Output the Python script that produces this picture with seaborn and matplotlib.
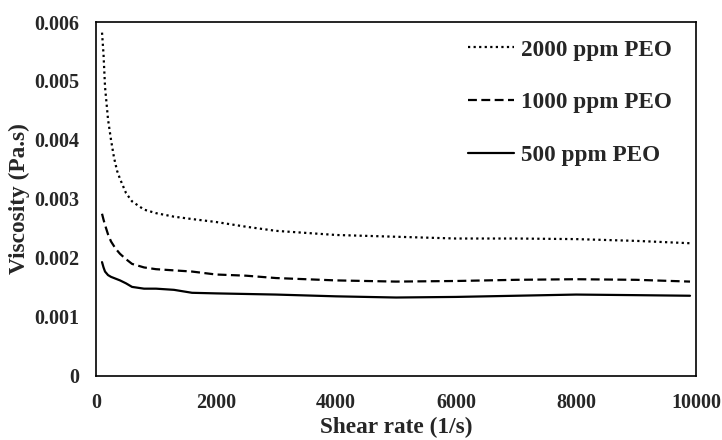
import numpy as np
import pandas as pd
import matplotlib
matplotlib.use("Agg")
import matplotlib.pyplot as plt
import seaborn as sns
from matplotlib.ticker import FuncFormatter

# Shear rate (1/s) and viscosity (Pa.s)
shear_rate = [100, 125, 150, 200, 250, 300, 350, 400, 500, 600, 800, 1000, 1300, 1600,
              2000, 2500, 3000, 4000, 5000, 6000, 7000, 8000, 9000, 9900]
visc_2000 = [0.00582, 0.00545, 0.00490, 0.00435, 0.00400, 0.00370, 0.00348, 0.00334,
             0.00310, 0.00296, 0.00282, 0.00276, 0.00270, 0.00266, 0.00261, 0.00253,
             0.00246, 0.00239, 0.00236, 0.00233, 0.00233, 0.00232, 0.00229, 0.00225]
visc_1000 = [0.00275, 0.00265, 0.00256, 0.00240, 0.00228, 0.00220, 0.00213, 0.00207,
             0.00198, 0.00190, 0.00184, 0.00181, 0.00179, 0.00177, 0.00172, 0.00170,
             0.00166, 0.00162, 0.00160, 0.00161, 0.00163, 0.00164, 0.00163, 0.00160]
visc_500 = [0.00193, 0.00184, 0.00177, 0.00171, 0.00168, 0.00166, 0.00164, 0.00162,
            0.00157, 0.00151, 0.00148, 0.00148, 0.00146, 0.00141, 0.00140, 0.00139,
            0.00138, 0.00135, 0.00133, 0.00134, 0.00136, 0.00138, 0.00137, 0.00136]
series_names = ["2000 ppm PEO", "1000 ppm PEO", "500 ppm PEO"]

df = pd.DataFrame({"Shear rate": shear_rate, series_names[0]: visc_2000,
                   series_names[1]: visc_1000, series_names[2]: visc_500})
df_melted = pd.melt(df, id_vars="Shear rate", value_vars=series_names,
                    var_name="Sample", value_name="Viscosity")

sns.set_style("white")
plt.rcParams["font.family"] = ["Liberation Serif", "DejaVu Serif"]
plt.rcParams["font.weight"] = "bold"

fig = plt.figure(figsize=(7.22, 4.40), dpi=100)
ax = fig.add_axes([0.133, 0.1455, 0.831, 0.8045])

sns.lineplot(data=df_melted, x="Shear rate", y="Viscosity", style="Sample",
             style_order=series_names, color="black", linewidth=1.6,
             dashes={series_names[0]: (1, 1.5), series_names[1]: (4, 2), series_names[2]: ""},
             ax=ax)

ax.set_xlim(0, 10000)
ax.set_ylim(0, 0.006)
ax.set_xticks(np.arange(0, 10001, 2000))
ax.set_yticks(np.arange(0, 0.0061, 0.001))
ax.yaxis.set_major_formatter(FuncFormatter(lambda v, p: "0" if abs(v) < 1e-9 else f"{v:.3f}"))
ax.tick_params(axis="x", direction="out", length=5, width=1.2, color="black",
               labelsize=14.5, pad=7)
ax.tick_params(axis="y", length=0, labelsize=14.5, pad=12)
for lbl in ax.get_xticklabels() + ax.get_yticklabels():
    lbl.set_fontweight("bold")

for s in ax.spines.values():
    s.set_visible(True)
    s.set_color("black")
    s.set_linewidth(1.2)

ax.set_xlabel("Shear rate (1/s)", fontsize=16.8, fontweight="bold", labelpad=3)
ax.set_ylabel("Viscosity (Pa.s)", fontsize=16.8, fontweight="bold", labelpad=3)

leg = ax.legend(loc="upper right", frameon=False, fontsize=16.7, handlelength=2.0,
                handletextpad=0.3, labelspacing=1.35, bbox_to_anchor=(0.995, 1.01))
for t in leg.get_texts():
    t.set_fontweight("bold")

fig.savefig("out.png", dpi=100)
plt.close(fig)
